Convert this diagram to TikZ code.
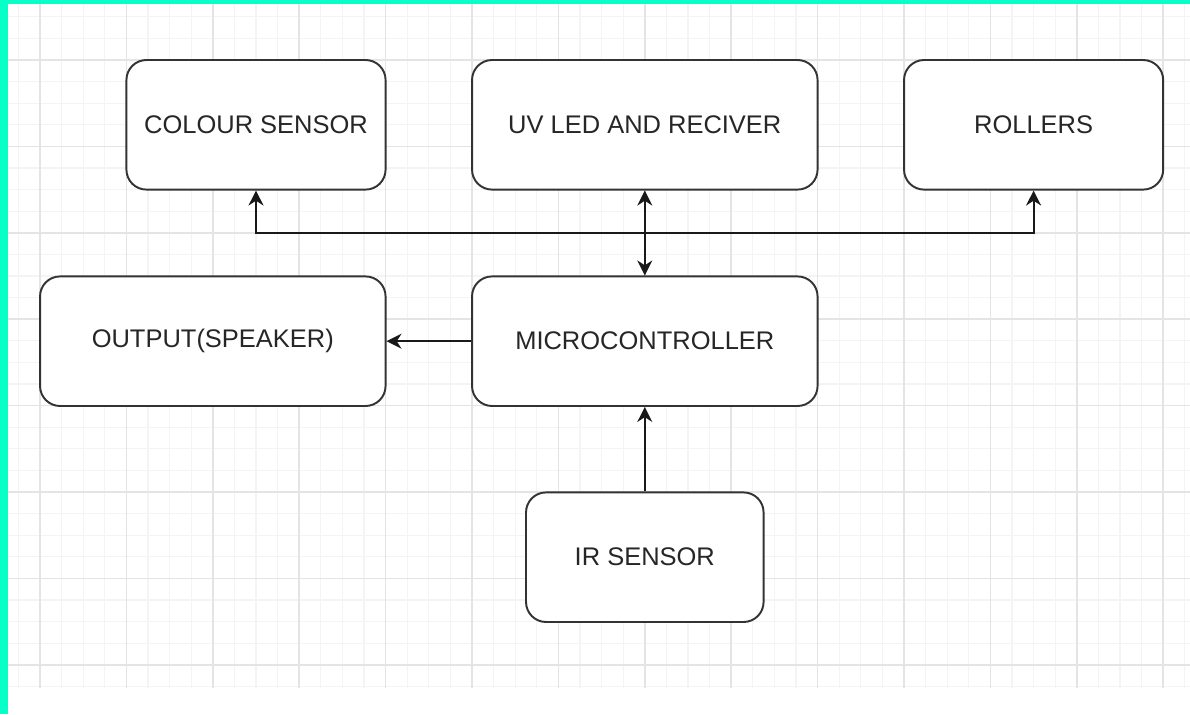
\documentclass[tikz,border=0pt]{standalone}
\usepackage{fontspec}
\setmainfont{Liberation Sans}
\usepackage{tikz}
\usetikzlibrary{arrows.meta, positioning}
\usepackage{xcolor}
\definecolor{edgeteal}{RGB}{8,255,200}
\definecolor{gridfaint}{RGB}{244,244,244}
\definecolor{gridmajor}{RGB}{228,228,228}

\begin{document}
\begin{tikzpicture}[
  x=0.02cm, y=-0.02cm,
  font=\fontsize{14.5}{17}\selectfont,
  >={Stealth[length=3mm, width=3mm]},
  block/.style={
    rectangle, draw=black!80, line width=1.1pt, rounded corners=0.4cm,
    fill=white, text=black!85, align=center,
    minimum width=5.184cm, minimum height=2.592cm, inner sep=0pt
  },
  wideblock/.style={block, minimum width=6.912cm},
  arrow/.style={line width=1.1pt, ->, color=black!90},
  minorline/.style={gridfaint, line width=0.6pt},
  majorline/.style={gridmajor, line width=0.9pt}
]
\useasboundingbox (0,0) rectangle (1190,714);

% Grid paper
\foreach \i in {0,...,54}
  \draw[minorline] ({18.4+21.6*\i},4) -- ({18.4+21.6*\i},688);
\foreach \j in {0,...,31}
  \draw[minorline] (8,{16.8+21.6*\j}) -- (1190,{16.8+21.6*\j});
\foreach \i in {0,...,13}
  \draw[majorline] ({40+86.4*\i},4) -- ({40+86.4*\i},688);
\foreach \j in {0,...,7}
  \draw[majorline] (8,{60+86.4*\j}) -- (1190,{60+86.4*\j});

% Frame
\fill[edgeteal] (0,0) rectangle (8,714);
\fill[edgeteal] (0,0) rectangle (1190,4);

% Top row
\node[block] (colour) at (256,124.8) {COLOUR SENSOR};
\node[wideblock] (uvled) at (644.8,124.8) {UV LED AND RECIVER};
\node[block] (rollers) at (1033.6,124.8) {ROLLERS};

% Middle row
\node[wideblock] (output) at (212.8,341.2) {OUTPUT(SPEAKER)};
\node[wideblock] (micro) at (644.8,341.2) {MICROCONTROLLER};

% Bottom
\node[block, minimum width=4.752cm] (irsensor) at (644.8,557.2) {IR SENSOR};

% Connections
\coordinate (bus) at (644.8,232.8);
\draw[arrow] (bus) -| (colour);
\draw[arrow] (bus) -| (rollers);
\draw[arrow, <->] (uvled) -- (micro);
\draw[arrow] (micro) -- (output);
\draw[arrow] (irsensor) -- (micro);

\end{tikzpicture}
\end{document}
